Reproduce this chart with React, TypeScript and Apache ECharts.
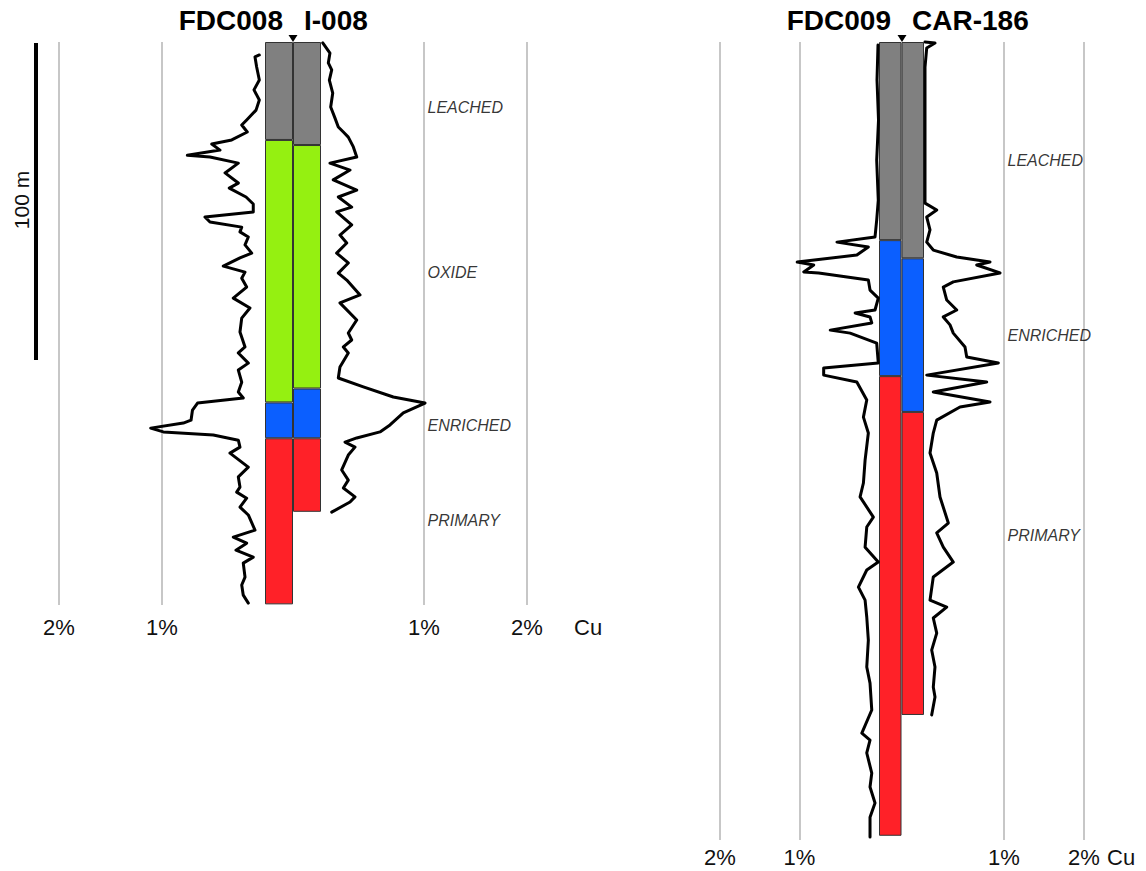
import React, { useEffect, useRef } from "react";
import * as echarts from "echarts";

// ---------- DATA ----------
// Zones (top to bottom)
const zoneNames = ["LEACHED", "OXIDE", "ENRICHED", "PRIMARY"];
const zoneColors = ["#808080", "#95F011", "#0B5FFF", "#FF2128"];

// Zone bottom depths (m) per hole
const fdc008ZoneBottoms = [30.9, 113.7, 125.0, 177.4];
const i008ZoneBottoms = [32.5, 109.3, 125.0, 148.2];
const fdc009ZoneBottoms = [79.7, 79.7, 134.4, 319.3];
const car186ZoneBottoms = [87.0, 87.0, 148.8, 270.7];

// Max depth shown per panel (m)
const leftPanelDepth = 177.6;
const rightPanelDepth = 321;

// Zone label depths per panel (m)
const leftZoneLabels: [string, number][] = [
  ["LEACHED", 20.8], ["OXIDE", 72.6], ["ENRICHED", 121.1], ["PRIMARY", 151.1],
];
const rightZoneLabels: [string, number][] = [
  ["LEACHED", 47.5], ["ENRICHED", 117.9], ["PRIMARY", 198.7],
];

// Cu assays: [Cu %, depth m]
const fdc008Cu: [number, number][] = [
  [0.055, 4.1], [0.097, 4.7], [0.081, 7.9], [0.055, 12.0], [0.107, 15.1], [0.055, 18.3],
  [0.087, 21.5], [0.178, 24.6], [0.226, 26.2], [0.172, 28.4], [0.323, 30.9], [0.517, 32.2],
  [0.437, 34.1], [0.754, 35.7], [0.534, 36.3], [0.259, 38.2], [0.388, 41.3], [0.259, 44.5],
  [0.347, 46.1], [0.184, 48.9], [0.114, 51.1], [0.114, 53.6], [0.583, 55.2], [0.534, 56.8],
  [0.226, 58.4], [0.243, 59.9], [0.162, 61.5], [0.194, 64.0], [0.129, 66.6], [0.243, 68.1],
  [0.405, 70.7], [0.194, 72.6], [0.226, 74.5], [0.178, 77.3], [0.308, 80.8], [0.146, 83.9],
  [0.226, 87.1], [0.243, 91.5], [0.194, 96.2], [0.259, 98.1], [0.162, 101.3], [0.259, 103.5],
  [0.226, 107.3], [0.259, 110.4], [0.211, 112.3], [0.655, 113.9], [0.704, 116.1], [0.718, 119.3],
  [0.793, 120.2], [1.11, 121.8], [0.987, 123.0], [0.502, 124.0], [0.259, 125.6], [0.243, 127.8],
  [0.34, 129.7], [0.162, 134.1], [0.259, 137.2], [0.243, 140.4], [0.275, 142.0], [0.178, 143.9],
  [0.243, 146.7], [0.162, 149.2], [0.097, 154.0], [0.308, 156.2], [0.178, 158.1], [0.282, 160.3],
  [0.114, 162.5], [0.211, 164.4], [0.194, 168.8], [0.226, 171.3], [0.211, 174.5], [0.162, 177.0],
];

const i008Cu: [number, number][] = [
  [0.017, 0.3], [0.087, 3.5], [0.071, 6.6], [0.104, 8.8], [0.081, 12.0], [0.114, 16.1],
  [0.094, 20.5], [0.136, 24.0], [0.168, 26.8], [0.217, 28.4], [0.265, 30.0], [0.314, 33.1],
  [0.347, 36.3], [0.087, 38.2], [0.282, 40.4], [0.119, 43.5], [0.347, 46.7], [0.168, 48.9],
  [0.298, 52.1], [0.152, 53.6], [0.298, 57.7], [0.184, 60.9], [0.25, 63.4], [0.152, 66.6],
  [0.265, 69.7], [0.168, 72.9], [0.25, 75.1], [0.379, 79.8], [0.184, 82.3], [0.347, 87.7],
  [0.265, 91.8], [0.298, 94.0], [0.217, 96.2], [0.265, 98.1], [0.184, 102.5], [0.168, 106.0],
  [0.411, 108.8], [0.702, 112.0], [1.01, 113.9], [0.799, 117.0], [0.67, 120.8], [0.573, 123.0],
  [0.347, 124.9], [0.233, 126.2], [0.33, 127.8], [0.265, 130.3], [0.201, 135.0], [0.265, 138.2],
  [0.217, 140.7], [0.33, 143.5], [0.282, 145.1], [0.104, 148.3],
];

const fdc009Cu: [number, number][] = [
  [0.0125, 1.2], [0.025, 15.3], [0.006, 31.4], [0.029, 47.5], [0.009, 63.6], [0.029, 71.6],
  [0.05, 78.4], [0.529, 80.5], [0.134, 82.5], [0.279, 85.7], [1.029, 88.5], [0.821, 89.7],
  [0.946, 92.5], [0.759, 92.9], [0.134, 95.7], [0.113, 99.8], [0.009, 103.0], [0.05, 107.8],
  [0.3, 109.0], [0.113, 110.6], [0.091, 113.0], [0.613, 115.9], [0.363, 117.1], [0.029, 121.1],
  [0.009, 129.1], [0.696, 131.1], [0.696, 134.0], [0.279, 136.8], [0.154, 144.0], [0.196, 150.9],
  [0.134, 157.3], [0.175, 168.2], [0.196, 177.4], [0.238, 183.0], [0.071, 191.1], [0.154, 195.1],
  [0.175, 203.2], [0.009, 209.2], [0.154, 212.4], [0.259, 219.3], [0.175, 224.5], [0.154, 231.3],
  [0.134, 240.6], [0.154, 251.4], [0.113, 257.9], [0.091, 268.7], [0.216, 278.0], [0.113, 280.8],
  [0.154, 286.0], [0.091, 294.1], [0.113, 299.7], [0.05, 306.1], [0.113, 311.8], [0.113, 319.8],
];

const car186Cu: [number, number][] = [
  [0.0125, 0], [0.1375, 0.4], [0.034, 2.4], [0.0125, 10.1], [0.0125, 36.6], [0.0125, 64.8],
  [0.159, 67.6], [0.034, 70.4], [0.075, 75.6], [0.034, 80.5], [0.116, 83.7], [0.409, 86.5],
  [0.825, 88.5], [0.659, 89.7], [0.95, 92.9], [0.366, 96.5], [0.241, 98.6], [0.284, 103.8],
  [0.409, 107.8], [0.241, 110.6], [0.325, 113.8], [0.366, 117.1], [0.5125, 122.7], [0.534, 126.7],
  [0.929, 129.1], [0.034, 134.0], [0.784, 136.8], [0.116, 140.8], [0.825, 144.8], [0.45, 146.8],
  [0.159, 152.1], [0.116, 157.3], [0.075, 165.3], [0.159, 173.4], [0.2, 183.0], [0.304, 193.5],
  [0.159, 197.5], [0.241, 203.2], [0.366, 209.2], [0.116, 215.2], [0.075, 224.5], [0.284, 227.3],
  [0.116, 231.7], [0.159, 237.8], [0.096, 244.6], [0.1375, 251.4], [0.116, 259.5], [0.1375, 263.5],
  [0.096, 270.7],
];

const cuTicks = [0, 1, 2];

// ---------- HELPERS ----------
const FONT = "'Liberation Sans', Arial, Helvetica, sans-serif";

function thickness(bottoms: number[]): (number | null)[] {
  return bottoms.map((b, i) => {
    const t = b - (i > 0 ? bottoms[i - 1] : 0);
    return t > 0 ? +t.toFixed(2) : null;
  });
}

function cuAxis(gridIndex: number, inverse: boolean, margin: number) {
  return {
    type: "value",
    gridIndex,
    min: cuTicks[0],
    max: cuTicks[cuTicks.length - 1],
    interval: 1,
    inverse,
    axisLine: { show: false },
    axisTick: { show: false },
    splitLine: {
      show: true,
      showMinLine: false,
      showMaxLine: true,
      lineStyle: { color: "#b5b5b5", width: 1.5 },
    },
    axisLabel: {
      show: true,
      showMinLabel: false,
      showMaxLabel: true,
      formatter: "{value}%",
      fontSize: 22,
      color: "#111",
      fontFamily: FONT,
      margin,
    },
  };
}

function depthAxis(gridIndex: number, max: number) {
  return { type: "value", gridIndex, min: 0, max, inverse: true, show: false };
}

function colAxis(gridIndex: number, names: string[]) {
  return { type: "category", gridIndex, data: names, show: false };
}

function curveSeries(name: string, axis: number, data: [number, number][]) {
  return {
    type: "line",
    name,
    xAxisIndex: axis,
    yAxisIndex: axis,
    data,
    symbol: "none",
    clip: false,
    lineStyle: { color: "#000", width: 3, cap: "round", join: "round" },
  };
}

function barSeries(axis: number, stack: string, a: number[], b: number[]) {
  const ta = thickness(a);
  const tb = thickness(b);
  return zoneNames.map((z, i) => ({
    type: "bar",
    name: stack + z,
    xAxisIndex: axis,
    yAxisIndex: axis,
    stack,
    barWidth: "100%",
    barCategoryGap: "0%",
    data: [ta[i], tb[i]],
    itemStyle: { color: zoneColors[i], borderColor: "#333", borderWidth: 1 },
  }));
}

function zoneLabelSeries(axis: number, labels: [string, number][]) {
  return {
    type: "scatter",
    xAxisIndex: axis,
    yAxisIndex: axis,
    symbolSize: 1,
    itemStyle: { color: "rgba(0,0,0,0)" },
    data: labels.map(([n, d]) => ({ value: [1, d], name: n })),
    label: {
      show: true,
      position: "right",
      distance: 3,
      formatter: "{b}",
      fontSize: 16,
      fontStyle: "italic",
      color: "#000",
      fontFamily: FONT,
    },
  };
}

export default function App() {
  const ref = useRef<HTMLDivElement>(null);

  useEffect(() => {
    if (!ref.current) return;
    const chart = echarts.init(ref.current, null, { renderer: "svg" });

    const gridBase = { outerBoundsMode: "none", containLabel: false };
    const titleStyle = { fontSize: 28, fontWeight: "bold", fontFamily: FONT, fill: "#000", verticalAlign: "middle" };
    const option: any = {
      animation: false,
      backgroundColor: "#fff",
      grid: [
        { ...gridBase, left: 59, top: 42, width: 206, height: 563 },
        { ...gridBase, left: 265, top: 42, width: 56, height: 563 },
        { ...gridBase, left: 321, top: 42, width: 206, height: 563 },
        { ...gridBase, left: 720, top: 42, width: 159, height: 798 },
        { ...gridBase, left: 879, top: 42, width: 45, height: 798 },
        { ...gridBase, left: 924, top: 42, width: 160, height: 798 },
      ],
      xAxis: [
        cuAxis(0, true, 11),
        colAxis(1, ["FDC008", "I-008"]),
        cuAxis(2, false, 11),
        cuAxis(3, true, 6),
        colAxis(4, ["FDC009", "CAR-186"]),
        cuAxis(5, false, 6),
      ],
      yAxis: [
        depthAxis(0, leftPanelDepth),
        depthAxis(1, leftPanelDepth),
        depthAxis(2, leftPanelDepth),
        depthAxis(3, rightPanelDepth),
        depthAxis(4, rightPanelDepth),
        depthAxis(5, rightPanelDepth),
      ],
      series: [
        curveSeries("FDC008", 0, fdc008Cu),
        ...barSeries(1, "L", fdc008ZoneBottoms, i008ZoneBottoms),
        curveSeries("I-008", 2, i008Cu),
        zoneLabelSeries(2, leftZoneLabels),
        curveSeries("FDC009", 3, fdc009Cu),
        ...barSeries(4, "R", fdc009ZoneBottoms, car186ZoneBottoms),
        curveSeries("CAR-186", 5, car186Cu),
        zoneLabelSeries(5, rightZoneLabels),
      ],
      graphic: [
        // titles
        { type: "text", x: 283, y: 20, style: { ...titleStyle, text: "FDC008", align: "right" } },
        { type: "text", x: 304, y: 20, style: { ...titleStyle, text: "I-008", align: "left" } },
        { type: "text", x: 891, y: 20, style: { ...titleStyle, text: "FDC009", align: "right" } },
        { type: "text", x: 912, y: 20, style: { ...titleStyle, text: "CAR-186", align: "left" } },
        // collar markers
        { type: "polygon", shape: { points: [[288.5, 35], [297.5, 35], [293, 42]] }, style: { fill: "#000" } },
        { type: "polygon", shape: { points: [[897.5, 35], [906.5, 35], [902, 42]] }, style: { fill: "#000" } },
        // Cu labels
        { type: "text", x: 574, y: 627, style: { text: "Cu", fontSize: 22, fontFamily: FONT, fill: "#111", align: "left", verticalAlign: "middle" } },
        { type: "text", x: 1107, y: 857, style: { text: "Cu", fontSize: 22, fontFamily: FONT, fill: "#111", align: "left", verticalAlign: "middle" } },
        // scale bar
        { type: "line", shape: { x1: 36, y1: 43, x2: 36, y2: 360 }, style: { stroke: "#000", lineWidth: 4 } },
        { type: "text", x: 21, y: 200, rotation: Math.PI / 2, style: { text: "100 m", fontSize: 21, fontFamily: FONT, fill: "#111", align: "center", verticalAlign: "middle" } },
      ],
    };
    chart.setOption(option);
    return () => chart.dispose();
  }, []);

  return (
    <div
      ref={ref}
      style={{ position: "absolute", left: 0, top: 0, width: 1146, height: 871 }}
    />
  );
}
